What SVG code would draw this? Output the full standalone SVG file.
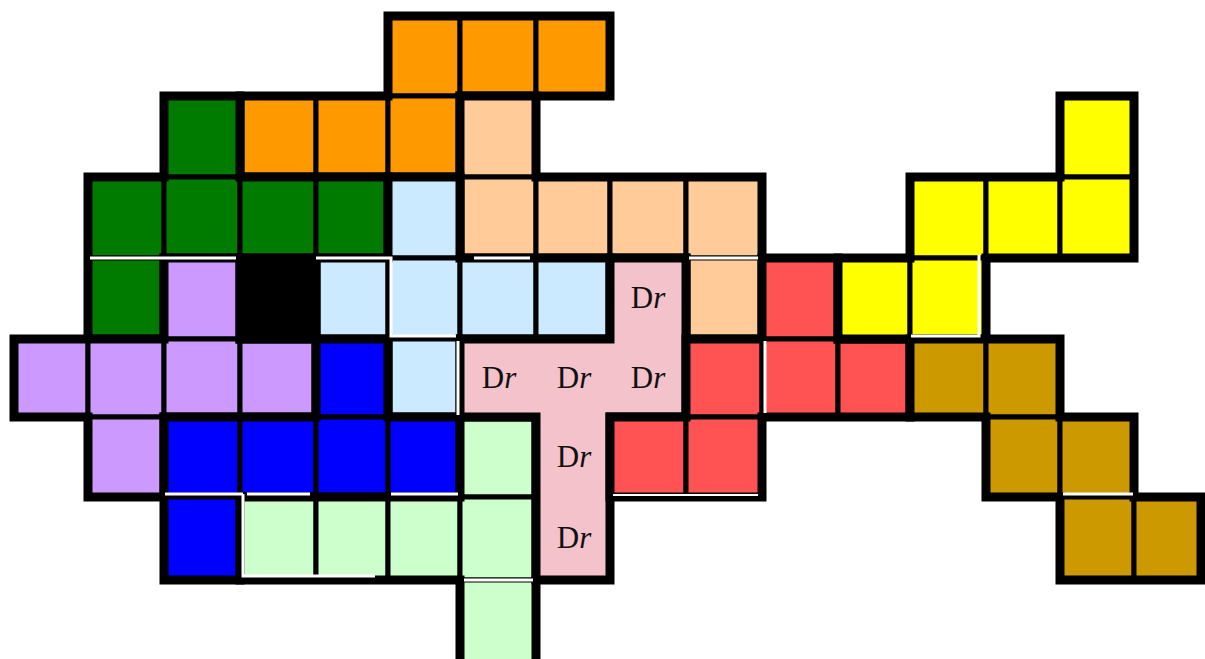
<svg xmlns="http://www.w3.org/2000/svg" width="1205" height="659" viewBox="0 0 1205 659">
<style>
.c{stroke:#000;stroke-width:5}
.o{fill:none;stroke:#000;stroke-width:9;stroke-linejoin:miter}
.w{fill:none;stroke:#fff;stroke-width:3}
.orange{fill:#ff9900}.green{fill:#007b00}.peach{fill:#ffcc99}.lblue{fill:#cceaff}
.purple{fill:#cc99ff}.black{fill:#000}.blue{fill:#0000ff}.lgreen{fill:#ccffcc}
.pink{fill:#f4c2cb}.red{fill:#ff5252}.yellow{fill:#ffff00}.gold{fill:#cc9900}
.dr{font-family:"Liberation Serif","Times New Roman",serif;font-size:31px;fill:#111;text-anchor:middle}
</style>
<rect width="1205" height="659" fill="#fff"/>
<g id="orange">
<rect class="c orange" x="388" y="16" width="72" height="80"/>
<rect class="c orange" x="460" y="16" width="76" height="80"/>
<rect class="c orange" x="536" y="16" width="74" height="80"/>
<rect class="c orange" x="240" y="96" width="76" height="81"/>
<rect class="c orange" x="316" y="96" width="72" height="81"/>
<rect class="c orange" x="388" y="96" width="72" height="81"/>
<path class="o" d="M388,16 H610 V96 H460 V177 H240 V96 H388 Z"/>
</g>
<g id="green">
<rect class="c green" x="164" y="96" width="76" height="81"/>
<rect class="c green" x="88" y="177" width="76" height="81"/>
<rect class="c green" x="164" y="177" width="76" height="81"/>
<rect class="c green" x="240" y="177" width="76" height="81"/>
<rect class="c green" x="316" y="177" width="72" height="81"/>
<rect class="c green" x="88" y="258" width="76" height="81"/>
<path class="o" d="M164,96 H240 V177 H388 V258 H164 V339 H88 V177 H164 Z"/>
</g>
<g id="peach">
<rect class="c peach" x="460" y="96" width="76" height="81"/>
<rect class="c peach" x="460" y="177" width="76" height="81"/>
<rect class="c peach" x="536" y="177" width="74" height="81"/>
<rect class="c peach" x="610" y="177" width="76" height="81"/>
<rect class="c peach" x="686" y="177" width="76" height="81"/>
<rect class="c peach" x="686" y="258" width="76" height="81"/>
<path class="o" d="M460,96 H536 V177 H762 V339 H686 V258 H460 Z"/>
</g>
<g id="lightblue">
<rect class="c lblue" x="388" y="177" width="72" height="81"/>
<rect class="c lblue" x="316" y="258" width="72" height="81"/>
<rect class="c lblue" x="388" y="258" width="72" height="81"/>
<rect class="c lblue" x="460" y="258" width="76" height="81"/>
<rect class="c lblue" x="536" y="258" width="74" height="81"/>
<rect class="c lblue" x="388" y="339" width="72" height="78"/>
<path class="o" d="M388,177 H460 V258 H610 V339 H460 V417 H388 V339 H316 V258 H388 Z"/>
</g>
<g id="purple">
<rect class="c purple" x="164" y="258" width="76" height="81"/>
<rect class="c purple" x="14" y="339" width="74" height="78"/>
<rect class="c purple" x="88" y="339" width="76" height="78"/>
<rect class="c purple" x="164" y="339" width="76" height="78"/>
<rect class="c purple" x="240" y="339" width="76" height="78"/>
<rect class="c purple" x="88" y="417" width="76" height="80"/>
<path class="o" d="M164,258 H240 V339 H316 V417 H164 V497 H88 V417 H14 V339 H164 Z"/>
</g>
<g id="black">
<rect class="c black" x="240" y="258" width="76" height="81"/>
<path class="o" d="M240,258 H316 V339 H240 Z"/>
</g>
<g id="blue">
<rect class="c blue" x="316" y="339" width="72" height="78"/>
<rect class="c blue" x="164" y="417" width="76" height="80"/>
<rect class="c blue" x="240" y="417" width="76" height="80"/>
<rect class="c blue" x="316" y="417" width="72" height="80"/>
<rect class="c blue" x="388" y="417" width="72" height="80"/>
<rect class="c blue" x="164" y="497" width="76" height="83"/>
<path class="o" d="M316,339 H388 V417 H460 V497 H240 V580 H164 V417 H316 Z"/>
</g>
<g id="lightgreen">
<rect class="c lgreen" x="460" y="417" width="76" height="80"/>
<rect class="c lgreen" x="240" y="497" width="76" height="83"/>
<rect class="c lgreen" x="316" y="497" width="72" height="83"/>
<rect class="c lgreen" x="388" y="497" width="72" height="83"/>
<rect class="c lgreen" x="460" y="497" width="76" height="83"/>
<rect class="c lgreen" x="460" y="580" width="76" height="88"/>
<path class="o" d="M460,417 H536 V668 H460 V580 H240 V497 H460 Z"/>
</g>
<g id="pink">
<path class="pink" d="M610,258 H686 V417 H610 V580 H536 V417 H460 V339 H610 Z"/>
<path class="o" d="M610,258 H686 V417 H610 V580 H536 V417 H460 V339 H610 Z"/>
<text class="dr" x="648" y="308">D<tspan font-style="italic">r</tspan></text>
<text class="dr" x="499" y="388">D<tspan font-style="italic">r</tspan></text>
<text class="dr" x="574" y="388">D<tspan font-style="italic">r</tspan></text>
<text class="dr" x="648" y="388">D<tspan font-style="italic">r</tspan></text>
<text class="dr" x="574" y="467">D<tspan font-style="italic">r</tspan></text>
<text class="dr" x="574" y="548">D<tspan font-style="italic">r</tspan></text>
</g>
<g id="red">
<rect class="c red" x="762" y="258" width="76" height="81"/>
<rect class="c red" x="686" y="339" width="76" height="78"/>
<rect class="c red" x="762" y="339" width="76" height="78"/>
<rect class="c red" x="838" y="339" width="72" height="78"/>
<rect class="c red" x="610" y="417" width="76" height="80"/>
<rect class="c red" x="686" y="417" width="76" height="80"/>
<path class="o" d="M762,258 H838 V339 H910 V417 H762 V497 H610 V417 H686 V339 H762 Z"/>
</g>
<g id="yellow">
<rect class="c yellow" x="1060" y="96" width="74" height="81"/>
<rect class="c yellow" x="910" y="177" width="76" height="81"/>
<rect class="c yellow" x="986" y="177" width="74" height="81"/>
<rect class="c yellow" x="1060" y="177" width="74" height="81"/>
<rect class="c yellow" x="838" y="258" width="72" height="81"/>
<rect class="c yellow" x="910" y="258" width="76" height="81"/>
<path class="o" d="M1060,96 H1134 V258 H986 V339 H838 V258 H910 V177 H1060 Z"/>
</g>
<g id="gold">
<rect class="c gold" x="910" y="339" width="76" height="78"/>
<rect class="c gold" x="986" y="339" width="74" height="78"/>
<rect class="c gold" x="986" y="417" width="74" height="80"/>
<rect class="c gold" x="1060" y="417" width="74" height="80"/>
<rect class="c gold" x="1060" y="497" width="74" height="83"/>
<rect class="c gold" x="1134" y="497" width="67" height="83"/>
<path class="o" d="M910,339 H1060 V417 H1134 V497 H1201 V580 H1060 V497 H986 V417 H910 Z"/>
</g>
<g id="gaps">
<path class="w" d="M90,258 H236"/>
<path class="w" d="M316,258 H391 V336 H456"/>
<path class="w" d="M474,258 H530"/>
<path class="w" d="M689,258 H758"/>
<path class="w" d="M458,341 V415"/>
<path class="w" d="M765,341 V413"/>
<path class="w" d="M979,255 V336 H911"/>
<path class="w" d="M165,494 H243"/>
<path class="w" d="M247,494 H310"/>
<path class="w" d="M243,494 V576 H375"/>
<path class="w" d="M391,494 H458"/>
<path class="w" d="M464,580 H533"/>
<path class="w" d="M1063,494 H1133"/>
<path class="w" style="stroke-width:2" d="M613,495 H758"/>
</g>
</svg>
